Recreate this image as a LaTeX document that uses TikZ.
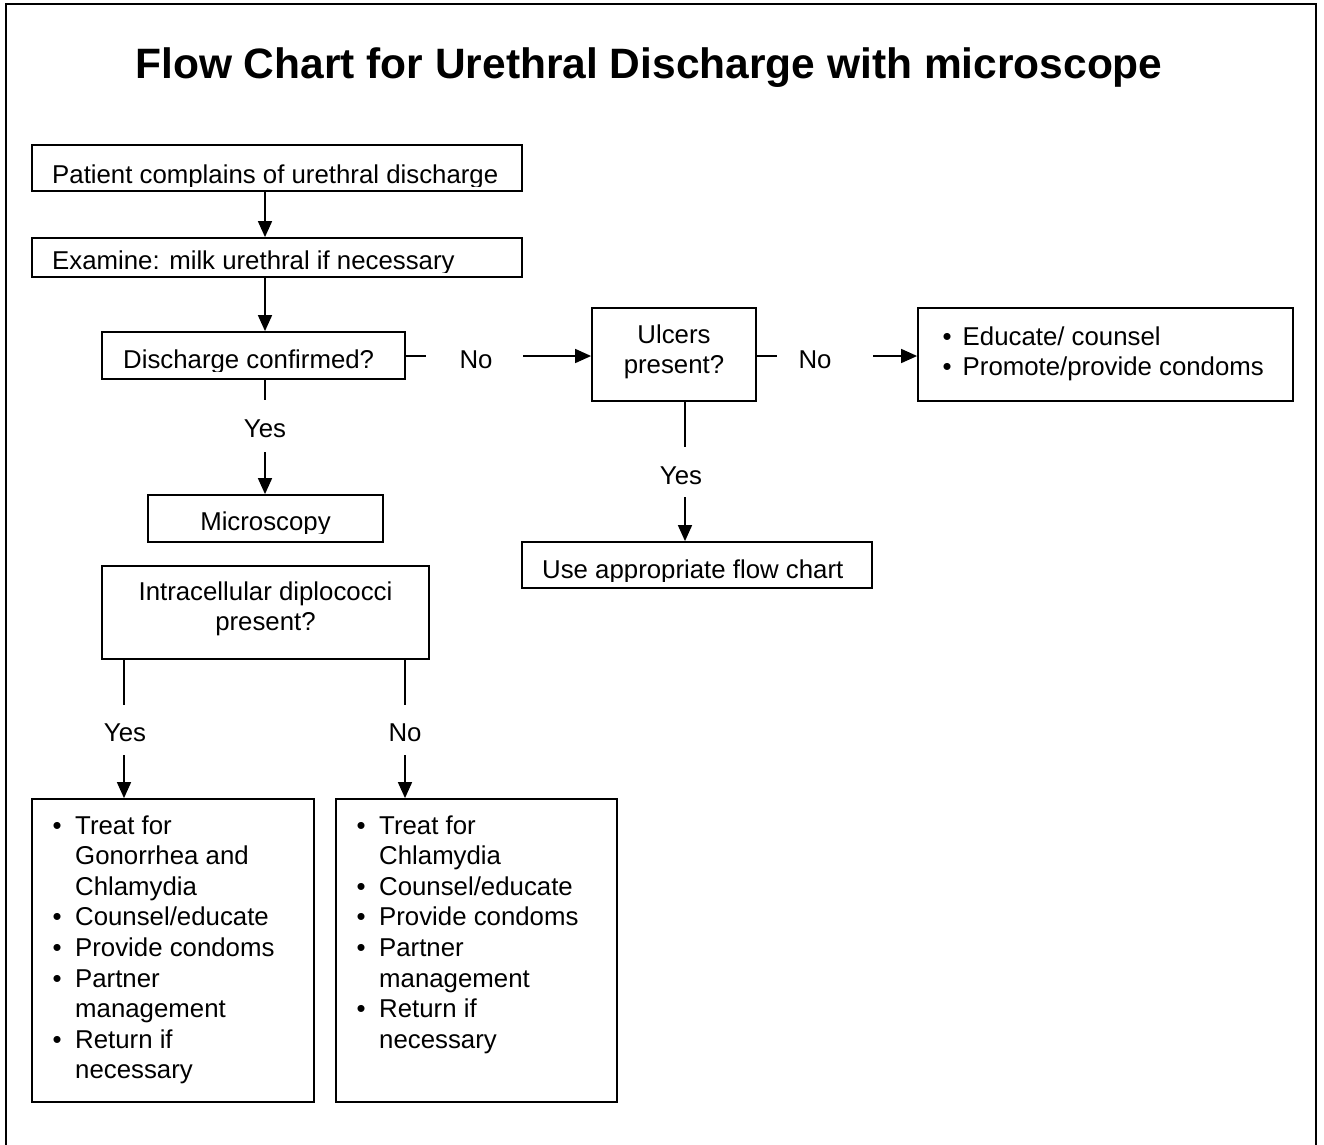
\documentclass[tikz,border=0pt]{standalone}
\usepackage{fontspec}
\setmainfont{Liberation Sans}
\usetikzlibrary{arrows.meta}
\newcommand\bitem{\makebox[20pt][l]{\textbullet}}
\newcommand\bitemw{\makebox[22.5pt][l]{\textbullet}}
\newcommand\bskipw{\hspace*{22.5pt}}
\begin{document}
\begin{tikzpicture}[x=1pt,y=-1pt,
  box/.style={draw,line width=1.8pt,inner sep=0pt,anchor=center},
  txt/.style={inner sep=0pt,font=\fontsize{25.8}{30.6}\selectfont},
  conn/.style={line width=1.6pt},
  arr/.style={line width=1.6pt,-{Triangle[length=16pt,width=14pt]}},
  frame/.style={line width=2pt}]
\useasboundingbox (0,0) rectangle (1324,1144);
% outer frame (bottom edge lies below the picture)
\draw[frame] (6,1160) -- (6,4) -- (1316,4) -- (1316,1160);
% title
\node[inner sep=0pt,anchor=base,font=\fontsize{42.5}{50}\selectfont\bfseries] (title) at (649,78)
  {Flow Chart for Urethral Discharge with microscope};
% boxes
\node[box,minimum width=490,minimum height=46] (pat) at (277,168) {};
\node[box,minimum width=490,minimum height=39] (exa) at (277,257.5) {};
\node[box,minimum width=303,minimum height=47] (dis) at (253.5,355.5) {};
\node[box,minimum width=164,minimum height=93] (ulc) at (674,354.5) {};
\node[box,minimum width=375,minimum height=93] (edu) at (1105.5,354.5) {};
\node[box,minimum width=235,minimum height=47] (mic) at (265.5,518.5) {};
\node[box,minimum width=327,minimum height=93] (intra) at (265.5,612.5) {};
\node[box,minimum width=350,minimum height=46] (use) at (697,565) {};
\node[box,minimum width=282,minimum height=303] (lb) at (173,950.5) {};
\node[box,minimum width=281,minimum height=303] (rb) at (476.5,950.5) {};
% box texts (descenders cut by the box margin, as in the original)
\begin{scope}
\clip (32,145) rectangle (522,186);
\node[txt,anchor=base west] (patT) at (52,183) {Patient complains of urethral discharge};
\end{scope}
\begin{scope}
\clip (32,238) rectangle (522,272);
\node[txt,anchor=base west] (exaT) at (52,269) {Examine: milk urethral if necessary};
\end{scope}
\begin{scope}
\clip (102,332) rectangle (405,371);
\node[txt,anchor=base west] (disT) at (123,368) {Discharge confirmed?};
\end{scope}
\begin{scope}
\clip (148,495) rectangle (383,533);
\node[txt,anchor=base] (micT) at (265.5,530) {Microscopy};
\end{scope}
\begin{scope}
\clip (522,542) rectangle (872,581);
\node[txt,anchor=base west] (useT) at (542,578) {Use appropriate flow chart};
\end{scope}
\node[txt,anchor=base] (ulcT) at (674,343) {\begin{tabular}[t]{@{}c@{}}Ulcers\\present?\end{tabular}};
\node[txt,anchor=base] (intraT) at (265.5,600) {\begin{tabular}[t]{@{}c@{}}Intracellular diplococci\\present?\end{tabular}};
\node[txt,anchor=base west] (eduT) at (942.5,345) {\begin{tabular}[t]{@{}l@{}}\bitem Educate/ counsel\\\bitem Promote/provide condoms\end{tabular}};
\node[txt,anchor=base west] (lbT) at (52.5,834) {\begin{tabular}[t]{@{}l@{}}
\bitemw Treat for\\ \bskipw Gonorrhea and\\ \bskipw Chlamydia\\
\bitemw Counsel/educate\\ \bitemw Provide condoms\\
\bitemw Partner\\ \bskipw management\\ \bitemw Return if\\ \bskipw necessary\end{tabular}};
\node[txt,anchor=base west] (rbT) at (356.5,834) {\begin{tabular}[t]{@{}l@{}}
\bitemw Treat for\\ \bskipw Chlamydia\\
\bitemw Counsel/educate\\ \bitemw Provide condoms\\
\bitemw Partner\\ \bskipw management\\ \bitemw Return if\\ \bskipw necessary\end{tabular}};
% connector labels
\node[txt,anchor=base] (no1) at (476,368) {No};
\node[txt,anchor=base] (no2) at (815,368) {No};
\node[txt,anchor=base] (yes1) at (265,437) {Yes};
\node[txt,anchor=base] (yes2) at (681,484) {Yes};
\node[txt,anchor=base] (yes3) at (125,741) {Yes};
\node[txt,anchor=base] (no3) at (405,741) {No};
% connector ends
\coordinate (sx) at (265,0);
\coordinate (c1) at (265,400);
\coordinate (c2) at (265,452);
\coordinate (n1a) at (426,356);
\coordinate (n1b) at (523,356);
\coordinate (n2a) at (777,356);
\coordinate (n2b) at (873,356);
\coordinate (u1) at (685,447);
\coordinate (u2) at (685,497);
\coordinate (l1) at (124,705);
\coordinate (l2) at (124,755);
\coordinate (r1) at (405,705);
\coordinate (r2) at (405,755);
% connectors
\draw[arr] (pat.south -| sx) -- (exa.north -| sx);
\draw[arr] (exa.south -| sx) -- (dis.north -| sx);
\draw[conn] (dis.south -| c1) -- (c1);
\draw[arr] (c2) -- (mic.north -| c2);
\draw[conn] (dis.east |- n1a) -- (n1a);
\draw[arr] (n1b) -- (ulc.west |- n1b);
\draw[conn] (ulc.east |- n2a) -- (n2a);
\draw[arr] (n2b) -- (edu.west |- n2b);
\draw[conn] (ulc.south -| u1) -- (u1);
\draw[arr] (u2) -- (use.north -| u2);
\draw[conn] (intra.south -| l1) -- (l1);
\draw[arr] (l2) -- (lb.north -| l2);
\draw[conn] (intra.south -| r1) -- (r1);
\draw[arr] (r2) -- (rb.north -| r2);
\end{tikzpicture}
\end{document}
